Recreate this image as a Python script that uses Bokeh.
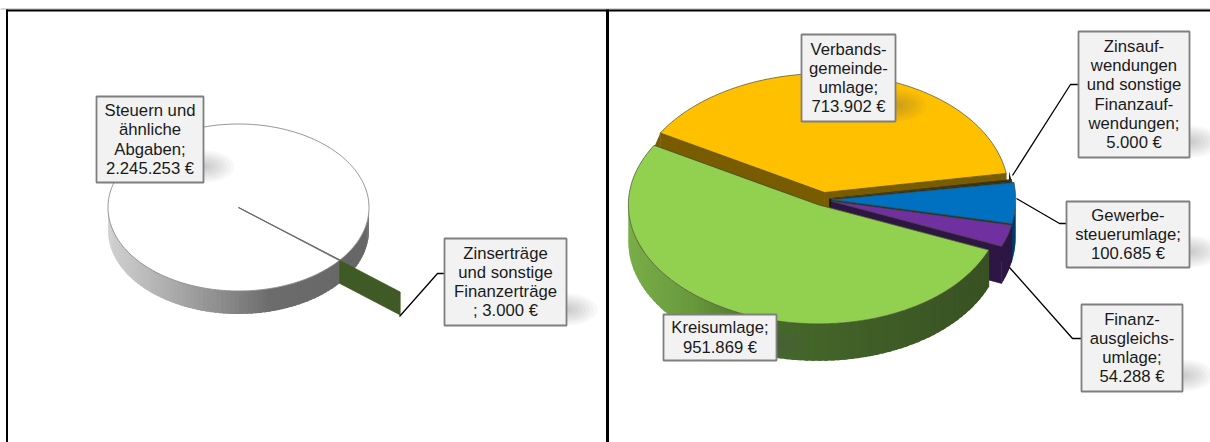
import math
from bokeh.plotting import figure
from bokeh.models import Range1d
from bokeh.core.properties import value
from bokeh.embed import file_html
from bokeh.resources import INLINE

# ---- data
income_names = ["Steuern und ähnliche Abgaben", "Zinserträge und sonstige Finanzerträge"]
income_values = [2245253, 3000]
expense_names = ["Verbandsgemeindeumlage", "Zinsaufwendungen und sonstige Finanzaufwendungen",
                 "Gewerbesteuerumlage", "Finanzausgleichsumlage", "Kreisumlage"]
expense_values = [713902, 5000, 100685, 54288, 951869]
income_label_lines = [["Steuern und", "ähnliche", "Abgaben;"], ["Zinserträge", "und sonstige", "Finanzerträge"]]
expense_label_lines = [["Verbands-", "gemeinde-", "umlage;"],
                       ["Zinsauf-", "wendungen", "und sonstige", "Finanzauf-", "wendungen;"],
                       ["Gewerbe-", "steuerumlage;"],
                       ["Finanz-", "ausgleichs-", "umlage;"],
                       ["Kreisumlage;"]]

def euro(v):
    return f"{v:,}".replace(",", ".") + " €"

# ---- layout
W, H = 1210, 442
p = figure(width=W, height=H, x_range=Range1d(0, W), y_range=Range1d(H, 0),
           toolbar_location=None, output_backend="svg", min_border=0,
           x_axis_location=None, y_axis_location=None,
           styles={"position": "absolute", "left": "0px", "top": "0px"})
p.grid.visible = False
p.outline_line_color = None
p.background_fill_color = "white"

def lerp_hex(stops, x):
    for (x0, c0), (x1, c1) in zip(stops, stops[1:]):
        if x <= x1:
            t = max(0.0, (x - x0) / (x1 - x0))
            break
    else:
        return stops[-1][1]
    a = [int(c0[i:i + 2], 16) for i in (1, 3, 5)]
    b = [int(c1[i:i + 2], 16) for i in (1, 3, 5)]
    return "#%02x%02x%02x" % tuple(round(u + (v - u) * t) for u, v in zip(a, b))

SKEW = 0.0
def pt(c, rx, ry, deg, r=1.0):
    a = math.radians(deg)
    s = math.sin(a)
    return c[0] + rx * r * s * (1 - SKEW * s), c[1] - ry * r * math.cos(a)

def poly(xs, ys, fill, line=None, lw=0.7, alpha=1.0):
    p.patch(xs, ys, fill_color=fill, line_color=line or fill, line_width=lw, fill_alpha=alpha, line_alpha=alpha)

def rim(c, rx, ry, d, a0, a1, stops=None, color=None):
    a0, a1 = max(a0, 90), min(a1, 270)
    n = max(1, int((a1 - a0) / 2))
    step = (a1 - a0) / n
    for i in range(n):
        u = a0 + step * i
        v = min(a1, u + step * 1.6)
        x0, y0 = pt(c, rx, ry, u)
        xm, ym = pt(c, rx, ry, min(a1, u + step / 2))
        x1, y1 = pt(c, rx, ry, v)
        col = color or lerp_hex(stops, xm)
        xs = [x0, xm, x1, x1, xm, x0]
        ys = [y0, ym, y1, y1 + d, ym + d, y0 + d]
        p.patch(xs, ys, fill_color=col, line_color=None)

def radial_wall(c, rx, ry, d, deg, color):
    x, y = pt(c, rx, ry, deg)
    poly([c[0], x, x, c[0]], [c[1], y, y + d, c[1] + d], color)

def top(c, rx, ry, a0, a1, fill, line, lw=0.7):
    n = max(2, int((a1 - a0) / 1.5))
    pts = [pt(c, rx, ry, a0 + (a1 - a0) * i / n) for i in range(n + 1)]
    poly([c[0]] + [q[0] for q in pts], [c[1]] + [q[1] for q in pts], fill, line, lw)

def shifted(c, rx, ry, deg, e):
    return pt(c, rx, ry, deg, e)

# ---- frame
for xs, ys, col, lw in [([0, W], [8.5, 8.5], "#b0b0b0", 1), ([6, W], [10, 10], "black", 2),
                        ([6.5, 6.5], [9, H], "black", 2), ([607, 607], [9, H], "black", 3)]:
    p.line(xs, ys, line_color=col, line_width=lw)

# ---- left pie
C1, RX1, RY1, D1 = (238, 207), 130.5, 83.5, 23
GREY = [(107, "#d2d2d2"), (190, "#a0a0a0"), (270, "#6c6c6c"), (370, "#666666")]
tot1 = sum(income_values)
sw_small = 360 * income_values[1] / tot1
start1 = 129.0
rim(C1, RX1, RY1, D1, 90, start1, GREY)
c_small = shifted(C1, RX1, RY1, start1 + sw_small / 2, 0.6)
radial_wall(c_small, RX1, RY1, D1, start1 + sw_small / 2, "#3f5a24")
rim(C1, RX1, RY1, D1, start1 + sw_small, 270, GREY)
top(C1, RX1, RY1, start1 + sw_small, start1 + 360, "white", "#8a8a8a", 0.9)
p.line(*zip(C1, pt(C1, RX1, RY1, start1)), line_color="#6a6a6a", line_width=1.1)

# ---- right pie
SKEW = 0.016
C2, RX2, RY2, D2 = (822, 199), 187, 119, 37
styles2 = [
    ("#FFC000", "#7a5c00", 0.06),
    ("#2a2a10", "#151505", 0.04),
    ("#0070C0", "#003b66", 0.05),
    ("#7030A0", "#2d1544", 0.05),
    ("#92D050", "#3a5324", 0.05),
]
GREEN = [(629, "#79ad48"), (690, "#689a3c"), (770, "#45692b"), (1000, "#385022")]
tot2 = sum(expense_values)
a = 300.0
for v, (fill, wall, e) in zip(expense_values, styles2):
    sw = 360 * v / tot2
    a0, a1 = a, a + sw
    mid = (a0 + a1) / 2
    c = shifted(C2, RX2, RY2, mid, e)
    radial_wall(c, RX2, RY2, D2, a0, wall)
    radial_wall(c, RX2, RY2, D2, a1, wall)
    if fill == "#92D050":
        rim(c, RX2, RY2, D2, a0, a1, GREEN)
    else:
        rim(c, RX2, RY2, D2, a0, a1, color=wall)
    top(c, RX2, RY2, a0, a1, fill, "#4a4a30", 0.7)
    a = a1 % 360

# ---- leader lines
for xs, ys in [([399, 437, 444], [316, 273, 273]),
               ([1012, 1070, 1078], [175, 84, 84]),
               ([1016, 1059, 1066], [198, 223, 223]),
               ([1009, 1072, 1081], [267, 338, 338])]:
    p.line(xs, ys, line_color="black", line_width=1.3)

# ---- labels
def label(x0, y0, x1, y1, lines):
    for i in range(8, 0, -1):
        w, h = 62 * i / 8, 32 * i / 8
        p.ellipse([x1], [y1 - 16], width=w, height=h, fill_color="#555555", fill_alpha=0.045, line_color=None)
    p.rect([(x0 + x1) / 2], [(y0 + y1) / 2], width=x1 - x0, height=y1 - y0,
           fill_color="#F2F2F2", line_color="#7f7f7f", line_width=1.8)
    lh = 19.3
    yc = (y0 + y1) / 2 - lh * (len(lines) - 1) / 2
    p.text([(x0 + x1) / 2] * len(lines), [yc + i * lh for i in range(len(lines))], text=lines,
           text_font=value("Liberation Sans"), text_font_size="16.7px", text_color="#1a1a1a",
           text_align="center", text_baseline="middle")

label(96, 96, 203, 182, income_label_lines[0] + [euro(income_values[0])])
label(444, 238, 566, 325, income_label_lines[1] + ["; " + euro(income_values[1])])
label(801, 34, 895, 121, expense_label_lines[0] + [euro(expense_values[0])])
label(1078, 31, 1189, 157, expense_label_lines[1] + [euro(expense_values[1])])
label(1066, 201, 1189, 267, expense_label_lines[2] + [euro(expense_values[2])])
label(1081, 304, 1182, 391, expense_label_lines[3] + [euro(expense_values[3])])
label(663, 314, 776, 360, expense_label_lines[4] + [euro(expense_values[4])])

open("out.html", "w").write(file_html(p, INLINE))
